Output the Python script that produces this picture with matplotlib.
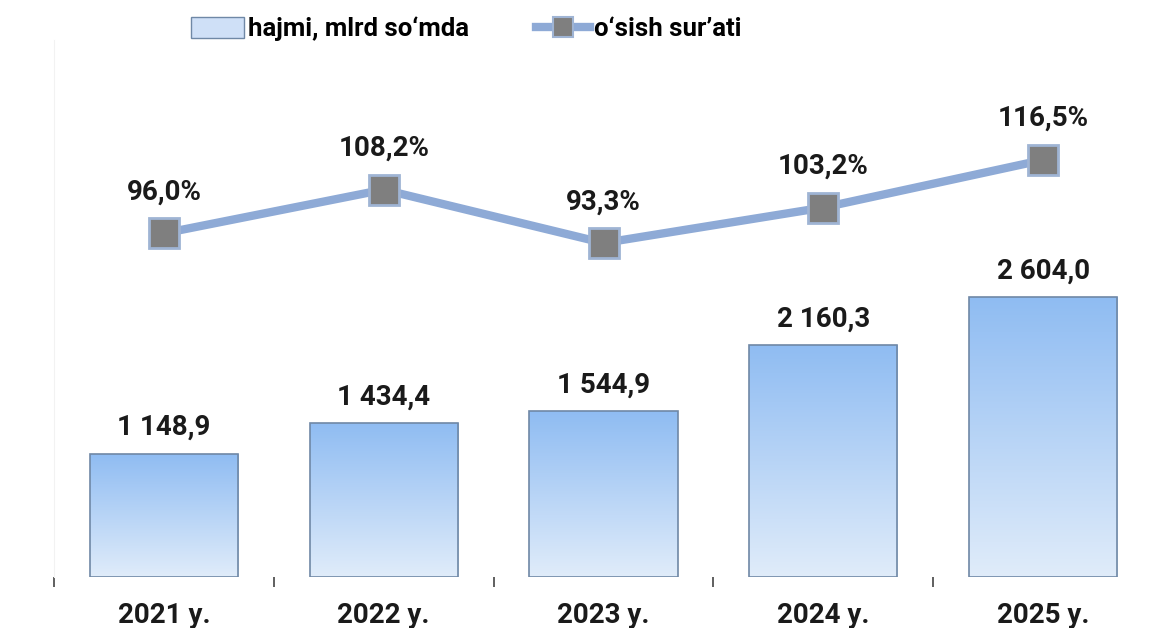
import numpy as np
import matplotlib
matplotlib.use("Agg")
import matplotlib.pyplot as plt
from matplotlib.lines import Line2D
from matplotlib.patches import Patch
from matplotlib.colors import LinearSegmentedColormap

years = ["2021 y.", "2022 y.", "2023 y.", "2024 y.", "2025 y."]
volume = [1148.9, 1434.4, 1544.9, 2160.3, 2604.0]
growth = [96.0, 108.2, 93.3, 103.2, 116.5]

BAR_LABEL = "hajmi, mlrd so\u2018mda"
LINE_LABEL = "o\u2018sish sur\u2019ati"

FONT = ["Roboto", "DejaVu Sans"]
TXT = "#1a1a1a"
LINE_C = "#8eaad6"
BAR_EDGE = "#6f88a6"
grad = LinearSegmentedColormap.from_list("bar", ["#e0ecfa", "#8fbcf2"])

plt.rcParams["font.family"] = FONT

W, H = 1151, 628
fig = plt.figure(figsize=(W / 100, H / 100), dpi=100)
ax = fig.add_axes([54 / W, (H - 577) / H, 1099 / W, (577 - 40) / H])
ax2 = ax.twinx()

xs = np.arange(len(years))
bars = ax.bar(xs, volume, width=0.675, color="none", edgecolor=BAR_EDGE, linewidth=1.2, zorder=3)
g = np.linspace(0, 1, 256).reshape(-1, 1)
for rect in bars:
    x0, y0 = rect.get_x(), rect.get_y()
    im = ax.imshow(g, cmap=grad, origin="lower", aspect="auto", zorder=2,
                   extent=[x0, x0 + rect.get_width(), y0, y0 + rect.get_height()])
    im.set_clip_path(rect)
for x, v in zip(xs, volume):
    s = f"{v:,.1f}".replace(",", " ").replace(".", ",")
    ax.annotate(s, (x, v), xytext=(0, 9), textcoords="offset points", ha="center", va="bottom",
                fontsize=20, fontweight="bold", color=TXT)

ax.set_xlim(-0.5, len(years) - 0.5)
ax.set_ylim(0, 5000)
ax.set_xticks(xs)
ax.set_xticklabels(years, fontsize=20, fontweight="bold", color=TXT)
ax.tick_params(axis="x", length=0, pad=18)
ax.set_xticks(np.arange(-0.5, len(years)), minor=True)
ax.tick_params(axis="x", which="minor", length=7, width=1.2, color="#444444", direction="out", pad=0)
ax.set_yticks([])
for sp in ("top", "right", "bottom"):
    ax.spines[sp].set_visible(False)
ax.spines["left"].set_color("#f2f2f2")
ax.set_axisbelow(True)

ax2.plot(xs, growth, color=LINE_C, linewidth=6, marker="s", markersize=21,
         markerfacecolor="#7f7f7f", markeredgecolor="#9fb4d4", markeredgewidth=2, zorder=5)
for x, v in zip(xs, growth):
    ax2.annotate(f"{v:.1f}%".replace(".", ","), (x, v), xytext=(0, 20), textcoords="offset points",
                 ha="center", va="bottom", fontsize=20, fontweight="bold", color=TXT)
ax2.set_ylim(0, 150)
ax2.set_yticks([])
for sp in ax2.spines.values():
    sp.set_visible(False)

handles = [
    Patch(facecolor="#cfe0f7", edgecolor=BAR_EDGE, linewidth=1.0),
    Line2D([0], [0], color=LINE_C, linewidth=6, marker="s", markersize=14,
           markerfacecolor="#7f7f7f", markeredgecolor="#9fb4d4", markeredgewidth=1.5),
]
fig.legend(handles, [BAR_LABEL, LINE_LABEL], loc="center", bbox_to_anchor=(466 / W, 1 - 29 / H),
           ncol=2, frameon=False, prop={"weight": "bold", "size": 18.5},
           handlelength=2.1, handletextpad=0.15, columnspacing=2.6, handleheight=0.9)

fig.savefig("out.png", dpi=100)
